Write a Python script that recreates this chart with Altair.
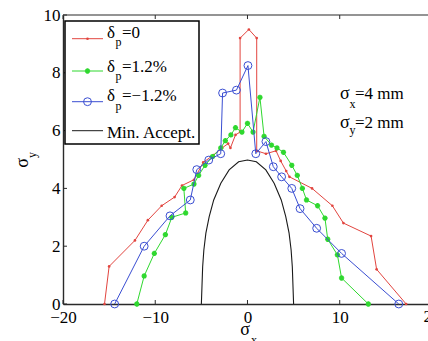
import altair as alt
import pandas as pd

# ---------------- data ----------------
red_x = [-15.5, -15.0, -12.2, -10.8, -9.3, -7.9, -7.1, -5.8, -4.8, -3.7, -2.75, -2.1,
         -1.85, -1.3, -0.8, -0.8, 0.15, 1.0, 1.0, 2.0, 3.1, 3.6, 4.2, 4.55, 7.0, 9.2,
         10.4, 13.4, 14.0, 17.2]
red_y = [0, 1.3, 2.2, 2.9, 3.4, 3.7, 4.1, 4.3, 4.9, 5.15, 5.4, 5.55,
         5.4, 5.85, 5.95, 9.2, 9.5, 9.2, 5.3, 5.2, 5.3, 4.95, 4.6, 4.4, 4.0, 3.4,
         2.8, 2.35, 1.2, 0]

green_x = [-12.0, -11.2, -10.1, -8.9, -8.2, -6.7, -6.9, -5.8, -5.3, -4.6, -3.8, -2.9,
           -2.4, -1.8, -1.3, -0.6, 0.0, 0.6, 1.35, 1.8, 2.6, 3.2, 3.9, 4.8, 5.4, 5.95,
           6.4, 7.6, 8.4, 8.7, 9.75, 10.2, 13.1]
green_y = [0, 0.97, 1.75, 2.4, 3.0, 3.15, 4.0, 4.15, 4.45, 4.8, 5.1, 5.4,
           5.65, 5.85, 6.1, 5.95, 6.25, 5.95, 7.15, 5.8, 5.5, 5.4, 5.25, 4.8, 4.45, 4.0,
           3.6, 3.4, 2.97, 2.24, 1.7, 0.9, 0]

blue_x = [-14.4, -11.2, -8.4, -6.2, -5.5, -4.2, -2.9, -2.7, -1.2, 0.05, 0.9, 2.0,
          2.8, 3.7, 4.8, 5.7, 7.5, 10.2, 16.4]
blue_y = [0, 2.0, 3.05, 3.6, 4.65, 4.98, 5.2, 7.3, 7.4, 8.25, 5.2, 5.62,
          4.75, 4.4, 4.0, 3.3, 2.62, 1.75, 0]

accept_x = [-5.0, -4.86, -4.73, -4.51, -4.15, -3.66, -2.89, -1.99, -0.96, 0.0,
            0.96, 1.99, 2.89, 3.66, 4.15, 4.51, 4.73, 4.86, 5.0]
accept_y = [0, 1.29, 1.87, 2.45, 3.02, 3.6, 4.18, 4.64, 4.92, 4.98,
            4.92, 4.64, 4.18, 3.6, 3.02, 2.45, 1.87, 1.29, 0]

x_ticks = [-20, -10, 0, 10, 20]
y_ticks = [0, 2, 4, 6, 8, 10]

legend_main = ["δ", "δ", "δ", "Min. Accept."]
legend_sub = ["p", "p", "p", ""]
legend_rest = ["=0", "=1.2%", "=−1.2%", ""]

# ---------------- styling ----------------
W, H = 365, 289
SERIF = "Liberation Serif"
RED, GREEN, BLUE, BLACK = "#e2453f", "#2fd82f", "#3a4ed2", "#1a1a1a"
AX = "#2a2a2a"
ASTER = "M-1,0L1,0M0,-1L0,1M-0.7,-0.7L0.7,0.7M-0.7,0.7L0.7,-0.7"

xscale = alt.Scale(domain=[-20, 19.57], nice=False, zero=False)
yscale = alt.Scale(domain=[0, 10], nice=False, zero=False)

x_axis = alt.Axis(values=x_ticks, title=None, ticks=False, grid=False, format="d",
                  labelFont=SERIF, labelFontSize=17, labelColor="black",
                  labelPadding=5, labelFlush=False, labelOverlap=False,
                  domainColor=AX, domainWidth=1.4)
y_axis = alt.Axis(values=y_ticks, title=None, ticks=False, grid=False, format="d",
                  labelFont=SERIF, labelFontSize=17, labelColor="black",
                  labelPadding=3, labelFlush=False, labelOverlap=False,
                  domainColor=AX, domainWidth=1.4)


def series(xs, ys):
    return pd.DataFrame({"x": xs, "y": ys, "i": list(range(len(xs)))})


X = alt.X("x:Q", scale=xscale, axis=x_axis)
Y = alt.Y("y:Q", scale=yscale, axis=y_axis)
O = alt.Order("i:Q")

accept = alt.Chart(series(accept_x, accept_y)).mark_line(
    color=BLACK, strokeWidth=1.1).encode(x=X, y=Y, order=O)

red_df = series(red_x, red_y)
red = alt.Chart(red_df).mark_line(color=RED, strokeWidth=1).encode(x=X, y=Y, order=O)
red_pts = alt.Chart(red_df).mark_point(color=RED, filled=True, size=7, opacity=1).encode(x=X, y=Y)

green_df = series(green_x, green_y)
green = alt.Chart(green_df).mark_line(color=GREEN, strokeWidth=1).encode(x=X, y=Y, order=O)
green_pts = alt.Chart(green_df).mark_point(shape=ASTER, color=GREEN, filled=False, size=28,
                                          strokeWidth=1.6, opacity=1).encode(x=X, y=Y)

blue_df = series(blue_x, blue_y)
blue = alt.Chart(blue_df).mark_line(color=BLUE, strokeWidth=1).encode(x=X, y=Y, order=O)
blue_pts = alt.Chart(blue_df).mark_point(shape="circle", color=BLUE, filled=False, size=62,
                                        strokeWidth=1, opacity=1).encode(x=X, y=Y)

# inward ticks and box top
xt_df = pd.DataFrame({"x": x_ticks})
yt_df = pd.DataFrame({"y": y_ticks})
bot_ticks = alt.Chart(xt_df).mark_rule(color=AX, strokeWidth=1).encode(
    x=X, y=alt.value(H), y2=alt.value(H - 4))
top_ticks = alt.Chart(xt_df).mark_rule(color=AX, strokeWidth=1).encode(
    x=X, y=alt.value(0), y2=alt.value(4))
left_ticks = alt.Chart(yt_df).mark_rule(color=AX, strokeWidth=1).encode(
    y=Y, x=alt.value(0), x2=alt.value(4))
one = pd.DataFrame({"a": [0]})
top_line = alt.Chart(one).mark_rule(color=AX, strokeWidth=1.2).encode(
    x=alt.value(0), x2=alt.value(W), y=alt.value(0))
# the last tick label, which the reference shows cut by the picture's edge
last_lbl = alt.Chart(pd.DataFrame({"x": x_ticks[-1:]})).mark_text(
    text=str(x_ticks[-1]), font=SERIF, fontSize=17, align="center", baseline="top",
    color="black").encode(x=X, y=alt.value(H + 5))

# ---------------- legend ----------------
leg_box = alt.Chart(one).mark_rect(fill="white", stroke="black", strokeWidth=1.5).encode(
    x=alt.value(2), x2=alt.value(136), y=alt.value(6), y2=alt.value(129))

row_line_y = [23.7, 56, 86.7, 115.7]
row_text_y = [22.5, 56.5, 86.2, 122.5]
row_colors = [RED, GREEN, BLUE, BLACK]
leg_layers = [leg_box]
for k in range(4):
    leg_layers.append(alt.Chart(one).mark_rule(color=row_colors[k], strokeWidth=1).encode(
        x=alt.value(9), x2=alt.value(40), y=alt.value(row_line_y[k])))
    if k == 0:
        leg_layers.append(alt.Chart(one).mark_point(color=RED, filled=True, size=7, opacity=1).encode(
            x=alt.value(24.5), y=alt.value(row_line_y[k])))
    elif k == 1:
        leg_layers.append(alt.Chart(one).mark_point(shape=ASTER, color=GREEN, filled=False, size=28,
                                                    strokeWidth=1.6, opacity=1).encode(
            x=alt.value(24.5), y=alt.value(row_line_y[k])))
    elif k == 2:
        leg_layers.append(alt.Chart(one).mark_point(shape="circle", color=BLUE, filled=False, size=62,
                                                    strokeWidth=1, opacity=1).encode(
            x=alt.value(24.5), y=alt.value(row_line_y[k])))
    leg_layers.append(alt.Chart(one).mark_text(
        text=legend_main[k], font=SERIF, fontSize=17, align="left", baseline="alphabetic",
        color="black").encode(x=alt.value(44), y=alt.value(row_text_y[k])))
    if legend_sub[k]:
        leg_layers.append(alt.Chart(one).mark_text(
            text=legend_sub[k], font=SERIF, fontSize=12, align="left", baseline="alphabetic",
            color="black").encode(x=alt.value(52.5), y=alt.value(row_text_y[k] + 8.5)))
    if legend_rest[k]:
        leg_layers.append(alt.Chart(one).mark_text(
            text=legend_rest[k], font=SERIF, fontSize=17, align="left", baseline="alphabetic",
            color="black").encode(x=alt.value(59), y=alt.value(row_text_y[k])))

# ---------------- annotations and axis titles ----------------
def txt(t, x, y, size=17, angle=0, align="left"):
    kw = dict(text=t, font=SERIF, fontSize=size, align=align, baseline="alphabetic", color="black")
    if angle:
        kw["angle"] = angle
    return alt.Chart(one).mark_text(**kw).encode(x=alt.value(x), y=alt.value(y))

notes = [
    txt("σ", 277, 84.3, 18), txt("x", 286.5, 93, 12), txt("=4 mm", 292, 84.3),
    txt("σ", 277, 113.3, 18), txt("y", 286.5, 118.5, 12), txt("=2 mm", 292, 113.3),
    txt("σ", -35, 148, 18, angle=270, align="center"),
    txt("y", -27.5, 140, 12, angle=270, align="center"),
    txt("σ", 182, 320, 18, align="center"),
    txt("x", 191, 329, 12, align="center"),
]

chart = alt.layer(
    accept, red, red_pts, green, green_pts, blue, blue_pts,
    bot_ticks, top_ticks, left_ticks, top_line, last_lbl,
    *leg_layers, *notes
).properties(
    width=W, height=H,
    autosize=alt.AutoSizeParams(type="none"),
    padding={"left": 63, "top": 15, "right": 0, "bottom": 37},
    background="white",
).configure_view(stroke=None).configure_axis(grid=False)

chart.save("out.html", embed_options={"renderer": "svg", "actions": False})
